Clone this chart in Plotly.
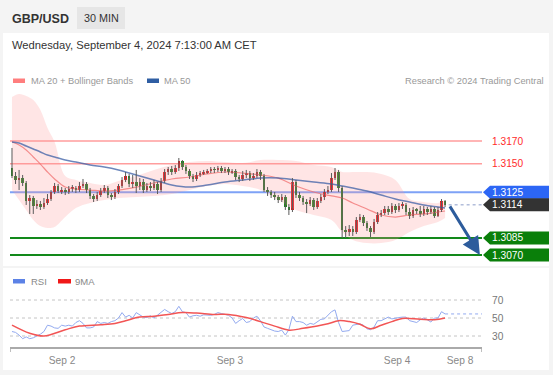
import plotly.graph_objects as go

# ---------------- data ----------------
opens = [1.31463, 1.31393, 1.31358, 1.31375, 1.31332, 1.31174, 1.31200, 1.31130, 1.31147, 1.31121,
         1.31156, 1.31191, 1.31253, 1.31305, 1.31261, 1.31270, 1.31253, 1.31279, 1.31288, 1.31270,
         1.31305, 1.31323, 1.31270, 1.31218, 1.31191, 1.31226, 1.31261, 1.31288, 1.31226, 1.31209,
         1.31253, 1.31305, 1.31358, 1.31393, 1.31323, 1.31340, 1.31305, 1.31340, 1.31270, 1.31305,
         1.31288, 1.31323, 1.31270, 1.31349, 1.31428, 1.31454, 1.31428, 1.31463, 1.31525, 1.31472,
         1.31437, 1.31393, 1.31367, 1.31402, 1.31419, 1.31428, 1.31437, 1.31454, 1.31446, 1.31463,
         1.31437, 1.31454, 1.31428, 1.31437, 1.31384, 1.31367, 1.31402, 1.31419, 1.31375, 1.31393,
         1.31428, 1.31393, 1.31270, 1.31253, 1.31226, 1.31209, 1.31182, 1.31209, 1.31121, 1.31095,
         1.31340, 1.31226, 1.31200, 1.31165, 1.31147, 1.31182, 1.31121, 1.31174, 1.31209, 1.31253,
         1.31270, 1.31375, 1.31428, 1.31288, 1.30919, 1.30902, 1.30928, 1.30902, 1.31007, 1.31033,
         1.30981, 1.30937, 1.30902, 1.30989, 1.31051, 1.31068, 1.31104, 1.31077, 1.31130, 1.31095,
         1.31130, 1.31139, 1.31077, 1.31042, 1.31095, 1.31086, 1.31060, 1.31104, 1.31077, 1.31104,
         1.31042, 1.31095, 1.31174]
highs = [1.31639, 1.31428, 1.31446, 1.31402, 1.31349, 1.31226, 1.31218, 1.31182, 1.31174, 1.31200,
         1.31235, 1.31270, 1.31332, 1.31323, 1.31296, 1.31288, 1.31305, 1.31314, 1.31305, 1.31340,
         1.31367, 1.31340, 1.31288, 1.31235, 1.31253, 1.31288, 1.31314, 1.31305, 1.31244, 1.31279,
         1.31323, 1.31384, 1.31428, 1.31411, 1.31402, 1.31446, 1.31375, 1.31367, 1.31332, 1.31340,
         1.31358, 1.31340, 1.31375, 1.31454, 1.31472, 1.31481, 1.31489, 1.31551, 1.31533, 1.31489,
         1.31454, 1.31411, 1.31428, 1.31437, 1.31446, 1.31454, 1.31472, 1.31472, 1.31481, 1.31481,
         1.31472, 1.31472, 1.31454, 1.31454, 1.31402, 1.31437, 1.31446, 1.31437, 1.31419, 1.31454,
         1.31446, 1.31411, 1.31296, 1.31270, 1.31253, 1.31226, 1.31235, 1.31226, 1.31147, 1.31375,
         1.31358, 1.31253, 1.31218, 1.31191, 1.31209, 1.31200, 1.31200, 1.31235, 1.31279, 1.31305,
         1.31419, 1.31463, 1.31446, 1.31305, 1.30954, 1.30963, 1.30954, 1.31033, 1.31060, 1.31051,
         1.30998, 1.30954, 1.31016, 1.31077, 1.31095, 1.31130, 1.31130, 1.31156, 1.31147, 1.31156,
         1.31165, 1.31156, 1.31112, 1.31121, 1.31112, 1.31130, 1.31130, 1.31121, 1.31130, 1.31121,
         1.31121, 1.31191, 1.31182]
lows = [1.31375, 1.31323, 1.31270, 1.31305, 1.31139, 1.31060, 1.31060, 1.31104, 1.31095, 1.31104,
        1.31139, 1.31174, 1.31235, 1.31244, 1.31235, 1.31226, 1.31235, 1.31253, 1.31244, 1.31253,
        1.31288, 1.31244, 1.31191, 1.31165, 1.31174, 1.31209, 1.31244, 1.31200, 1.31182, 1.31191,
        1.31235, 1.31288, 1.31340, 1.31296, 1.31288, 1.31244, 1.31270, 1.31244, 1.31253, 1.31261,
        1.31270, 1.31235, 1.31253, 1.31332, 1.31402, 1.31402, 1.31411, 1.31437, 1.31446, 1.31411,
        1.31367, 1.31340, 1.31349, 1.31384, 1.31402, 1.31411, 1.31419, 1.31419, 1.31428, 1.31419,
        1.31419, 1.31402, 1.31411, 1.31358, 1.31340, 1.31349, 1.31375, 1.31349, 1.31358, 1.31375,
        1.31358, 1.31253, 1.31218, 1.31200, 1.31182, 1.31156, 1.31165, 1.31095, 1.31051, 1.31077,
        1.31200, 1.31174, 1.31139, 1.31068, 1.31130, 1.31095, 1.31104, 1.31156, 1.31182, 1.31235,
        1.31253, 1.31358, 1.31253, 1.30849, 1.30849, 1.30867, 1.30867, 1.30884, 1.30989, 1.30954,
        1.30911, 1.30858, 1.30884, 1.30972, 1.31033, 1.31051, 1.31051, 1.31060, 1.31068, 1.31077,
        1.31104, 1.31051, 1.31016, 1.31025, 1.31060, 1.31033, 1.31042, 1.31051, 1.31060, 1.31025,
        1.31033, 1.31077, 1.31121]
closes = [1.31393, 1.31358, 1.31375, 1.31332, 1.31174, 1.31200, 1.31130, 1.31147, 1.31121, 1.31156,
          1.31191, 1.31253, 1.31305, 1.31261, 1.31270, 1.31253, 1.31279, 1.31288, 1.31270, 1.31305,
          1.31323, 1.31270, 1.31218, 1.31191, 1.31226, 1.31261, 1.31288, 1.31226, 1.31209, 1.31253,
          1.31305, 1.31358, 1.31393, 1.31323, 1.31340, 1.31305, 1.31340, 1.31270, 1.31305, 1.31288,
          1.31323, 1.31270, 1.31349, 1.31428, 1.31454, 1.31428, 1.31463, 1.31525, 1.31472, 1.31437,
          1.31393, 1.31367, 1.31402, 1.31419, 1.31428, 1.31437, 1.31454, 1.31446, 1.31463, 1.31437,
          1.31454, 1.31428, 1.31437, 1.31384, 1.31367, 1.31402, 1.31419, 1.31375, 1.31393, 1.31428,
          1.31393, 1.31270, 1.31253, 1.31226, 1.31209, 1.31182, 1.31209, 1.31121, 1.31095, 1.31340,
          1.31226, 1.31200, 1.31165, 1.31147, 1.31182, 1.31121, 1.31174, 1.31209, 1.31253, 1.31270,
          1.31375, 1.31428, 1.31288, 1.30919, 1.30902, 1.30928, 1.30902, 1.31007, 1.31033, 1.30981,
          1.30937, 1.30902, 1.30989, 1.31051, 1.31068, 1.31104, 1.31077, 1.31130, 1.31095, 1.31130,
          1.31139, 1.31077, 1.31042, 1.31095, 1.31086, 1.31060, 1.31104, 1.31077, 1.31104, 1.31042,
          1.31095, 1.31174, 1.31140]

# indicator samples (candle index -> value)
ind_idx = [0, 2, 4, 6, 8, 10, 12, 15, 18, 22, 26, 30, 35, 40, 45, 50, 55, 60, 65, 70, 75, 80, 85,
           90, 93, 96, 100, 104, 108, 112, 116, 120, 122]
bb_upper = [1.32086, 1.32112, 1.32095, 1.32060, 1.31972, 1.31814, 1.31691, 1.31393, 1.31358, 1.31332,
            1.31314, 1.31349, 1.31393, 1.31446, 1.31489, 1.31516, 1.31525, 1.31516, 1.31507, 1.31533,
            1.31533, 1.31525, 1.31489, 1.31472, 1.31428, 1.31428, 1.31428, 1.31411, 1.31358, 1.31191,
            1.31165, 1.31156, 1.31182]
bb_lower = [1.31270, 1.31182, 1.31095, 1.31007, 1.30954, 1.30937, 1.30946, 1.31033, 1.31112, 1.31156,
            1.31182, 1.31200, 1.31209, 1.31218, 1.31235, 1.31270, 1.31305, 1.31323, 1.31305, 1.31270,
            1.31182, 1.31095, 1.31051, 1.31007, 1.30902, 1.30832, 1.30805, 1.30805, 1.30832, 1.30902,
            1.30954, 1.30989, 1.31025]
ma20 = [1.31691, 1.31665, 1.31621, 1.31560, 1.31498, 1.31428, 1.31367, 1.31296, 1.31279, 1.31270,
        1.31261, 1.31270, 1.31296, 1.31332, 1.31367, 1.31384, 1.31411, 1.31428, 1.31419, 1.31402,
        1.31375, 1.31305, 1.31253, 1.31218, 1.31200, 1.31156, 1.31104, 1.31051, 1.31033, 1.31051,
        1.31060, 1.31077, 1.31086]
ma50 = [1.31691, 1.31682, 1.31656, 1.31630, 1.31604, 1.31577, 1.31560, 1.31533, 1.31516, 1.31489,
        1.31472, 1.31446, 1.31402, 1.31358, 1.31314, 1.31296, 1.31314, 1.31340, 1.31358, 1.31375,
        1.31375, 1.31358, 1.31340, 1.31323, 1.31305, 1.31288, 1.31261, 1.31226, 1.31191, 1.31165,
        1.31139, 1.31121, 1.31112]

rsi = [35, 34, 31, 27, 29, 27, 28, 30, 32, 35,
       42, 41, 39, 38.5, 42, 41, 42, 41, 45, 47,
       44, 39, 39, 40, 46, 44, 45, 44, 46, 47,
       50, 56, 51, 53, 50, 56, 53, 51, 50.5, 52.5,
       50, 53, 56, 59.5, 57, 55, 57, 63, 57, 56,
       51, 52.5, 53, 52, 53.5, 53, 53, 54, 56, 55,
       54, 53, 50, 44, 47, 49.5, 45, 46, 50, 52,
       47, 40, 38.5, 37, 35.5, 35, 36.5, 31, 37, 52,
       46, 46, 45, 42, 44, 43, 46, 48.5, 49, 53,
       57, 59, 45, 35, 35.5, 36, 42, 43, 43.5, 42,
       38, 37, 40, 47, 47, 49, 51, 49, 50, 50.5,
       51, 51, 47, 46, 45, 48, 50, 48, 45.5, 50,
       50, 57, 54.5]
rsi_ma_idx = [0, 5, 9, 15, 19, 25, 29, 32, 36, 40, 44, 48, 52, 57, 61, 66, 70, 74, 78, 82,
              86, 89, 92, 95, 98, 101, 104, 107, 110, 115, 119, 122]
rsi_ma = [42, 33, 30, 37, 41, 42.5, 44, 47, 51, 52, 54, 56, 55.5, 54, 54, 50.5, 46, 41, 36.5, 38.5,
          41, 43.5, 47, 46, 43, 38, 42, 46, 49.5, 48.5, 48, 50]

resistances = [1.3170, 1.3150]
pivot = 1.3125
last_price = 1.3114
supports = [1.3085, 1.3070]
rsi_levels = [70, 50, 30]

tick_pos = [14.1, 61.4, 108.5, 126.2]
tick_labels = ["Sep 2", "Sep 3", "Sep 4", "Sep 8"]

# ---------------- figure ----------------
W, H = 553, 375
def px(x):
    return x / W
def py(y):
    return 1 - y / H

FONT = "Liberation Sans, Arial, sans-serif"
N = len(closes)
idx = list(range(N))
XR = [-0.56, 132.4]
UP, DOWN = "#e3161b", "#178a17"

fig = go.Figure()

# Bollinger band
fig.add_trace(go.Scatter(x=ind_idx, y=bb_upper, mode="lines", line=dict(width=0, shape="spline", smoothing=1.0),
                         hoverinfo="skip"))
fig.add_trace(go.Scatter(x=ind_idx, y=bb_lower, mode="lines", line=dict(width=0, shape="spline", smoothing=1.0),
                         fill="tonexty", fillcolor="rgba(255,150,150,0.25)", hoverinfo="skip"))
# moving averages
fig.add_trace(go.Scatter(x=ind_idx, y=ma20, mode="lines",
                         line=dict(color="rgba(240,110,110,0.75)", width=1.2, shape="spline")))
fig.add_trace(go.Scatter(x=ind_idx, y=ma50, mode="lines",
                         line=dict(color="rgba(60,95,165,0.75)", width=1.5, shape="spline")))

# wicks
wx, wy = [], []
for i in idx:
    wx += [i, i, None]
    wy += [lows[i], highs[i], None]
fig.add_trace(go.Scatter(x=wx, y=wy, mode="lines", line=dict(color="#5a5a5a", width=1), hoverinfo="skip"))
# bodies
fig.add_trace(go.Bar(x=idx, y=[abs(c - o) for o, c in zip(opens, closes)],
                     base=[min(o, c) for o, c in zip(opens, closes)],
                     marker=dict(color=[UP if c > o else DOWN for o, c in zip(opens, closes)],
                                 line=dict(width=0)),
                     width=0.72))

# RSI panel
fig.add_trace(go.Scatter(x=idx, y=rsi, mode="lines", line=dict(color="#93aaf0", width=1),
                         xaxis="x2", yaxis="y2"))
fig.add_trace(go.Scatter(x=rsi_ma_idx, y=rsi_ma, mode="lines", line=dict(color="#f25555", width=1.5, shape="spline"),
                         xaxis="x2", yaxis="y2"))

shapes = []
# cards
shapes.append(dict(type="rect", xref="paper", yref="paper", x0=px(3), x1=px(549), y0=py(266), y1=py(33),
                   fillcolor="white", line=dict(width=0), layer="below"))
shapes.append(dict(type="rect", xref="paper", yref="paper", x0=px(3), x1=px(549), y0=py(370), y1=py(268),
                   fillcolor="white", line=dict(width=0), layer="below"))
shapes.append(dict(type="rect", xref="paper", yref="paper", x0=px(77), x1=px(125), y0=py(29), y1=py(7),
                   fillcolor="#e6e6e6", line=dict(width=0), layer="below"))

# level lines
for lv in resistances:
    shapes.append(dict(type="line", xref="x", yref="y", x0=XR[0], x1=XR[1], y0=lv, y1=lv,
                       line=dict(color="#ff9d9d", width=1.5), layer="below"))
shapes.append(dict(type="line", xref="x", yref="y", x0=XR[0], x1=XR[1], y0=pivot, y1=pivot,
                   line=dict(color="#7ea2f6", width=2), layer="below"))
for lv in supports:
    shapes.append(dict(type="line", xref="x", yref="y", x0=XR[0], x1=XR[1], y0=lv, y1=lv,
                       line=dict(color="#12891a", width=2), layer="below"))
shapes.append(dict(type="line", xref="x", yref="y", x0=N, x1=XR[1], y0=last_price, y1=last_price,
                   line=dict(color="#8c9cc8", width=1, dash="dot")))

# label boxes
HH = 0.00057
def box(level, color):
    xt, xl, xr = px(483), px(490), px(549)
    path = (f"M {xt},{level} L {xl},{level + HH} L {xr},{level + HH} "
            f"L {xr},{level - HH} L {xl},{level - HH} Z")
    return dict(type="path", xref="paper", yref="y", path=path, fillcolor=color, line=dict(width=0))
shapes.append(box(pivot, "#2c66f5"))
shapes.append(box(last_price, "#333333"))
for lv in supports:
    shapes.append(box(lv, "#0a7f0a"))

# RSI levels
for lv in rsi_levels:
    shapes.append(dict(type="line", xref="x2", yref="y2", x0=XR[0], x1=XR[1], y0=lv, y1=lv,
                       line=dict(color="#c4c4c4", width=1, dash="dot"), layer="below"))
shapes.append(dict(type="line", xref="x2", yref="y2", x0=N - 1, x1=XR[1], y0=rsi[-1], y1=rsi[-1],
                   line=dict(color="#93aaf0", width=1, dash="dot")))
# axis end brackets
for xe in XR:
    shapes.append(dict(type="line", xref="x2", yref="paper", x0=xe, x1=xe, y0=py(347), y1=py(352),
                       line=dict(color="#aaaaaa", width=1.5)))

# legend swatches
shapes.append(dict(type="rect", xref="paper", yref="paper", x0=px(13), x1=px(25), y0=py(83), y1=py(78.5),
                   fillcolor="#ff7e7e", line=dict(width=0)))
shapes.append(dict(type="rect", xref="paper", yref="paper", x0=px(147), x1=px(159), y0=py(83), y1=py(78.5),
                   fillcolor="#2f5ea3", line=dict(width=0)))
shapes.append(dict(type="rect", xref="paper", yref="paper", x0=px(13), x1=px(25), y0=py(283.5), y1=py(279),
                   fillcolor="#5c82e6", line=dict(width=0)))
shapes.append(dict(type="rect", xref="paper", yref="paper", x0=px(58), x1=px(71), y0=py(283.5), y1=py(279),
                   fillcolor="#f01818", line=dict(width=0)))

ann = []
def text(x, y, s, size, color, anchor="left", bold=False, yref="paper"):
    ann.append(dict(x=px(x), y=py(y) if yref == "paper" else y, xref="paper", yref=yref, text=f"<b>{s}</b>" if bold else s,
                    showarrow=False, xanchor=anchor, yanchor="middle",
                    font=dict(size=size, color=color, family=FONT)))

text(10, 18.5, "GBP/USD", 12.5, "#333333", bold=True)
text(101, 18, "30 MIN", 10.8, "#333333", anchor="center")
text(10, 45, "Wednesday, September 4, 2024 7:13:00 AM CET", 11.2, "#333333")
text(29, 81, "MA 20 + Bollinger Bands", 9.3, "#999999")
text(162, 81, "MA 50", 9.3, "#999999")
text(546, 81, "Research © 2024 Trading Central", 9.3, "#999999", anchor="right")
text(29, 281, "RSI", 9.5, "#888888")
text(73, 281, "9MA", 9.5, "#888888")

for lv in resistances:
    text(490, lv, f"{lv:.4f}", 10.2, "#ff2b2b", yref="y")
for lv in [pivot, last_price] + supports:
    text(490, lv, f"{lv:.4f}", 10.2, "white", yref="y")
for lv in rsi_levels:
    text(490, lv, str(lv), 10.2, "#777777", yref="y2")

# forecast arrow
ann.append(dict(x=131.8, y=supports[1], xref="x", yref="y", ax=N + 0.1, ay=last_price, axref="x", ayref="y",
                showarrow=True, arrowhead=2, arrowsize=1.2, arrowwidth=3, arrowcolor="#2d5c9c", text=""))

fig.update_layout(
    width=W, height=H, margin=dict(l=0, r=0, t=0, b=0),
    paper_bgcolor="#f4f4f4", plot_bgcolor="rgba(0,0,0,0)",
    showlegend=False, barmode="overlay", bargap=0,
    font=dict(family=FONT),
    xaxis=dict(domain=[px(10), px(482)], range=XR, visible=False, fixedrange=True),
    yaxis=dict(domain=[py(268), py(88)], range=[1.30586, 1.32165], visible=False),
    xaxis2=dict(domain=[px(10), px(482)], range=XR, anchor="y2", showline=True, linecolor="#aaaaaa",
                linewidth=1.5, showgrid=False, zeroline=False, tickvals=tick_pos, ticktext=tick_labels,
                ticks="outside", ticklen=3, tickcolor="rgba(0,0,0,0)",
                tickfont=dict(size=10.2, color="#888888", family=FONT)),
    yaxis2=dict(domain=[py(347), py(288)], range=[17.78, 83.33], visible=False),
    shapes=shapes, annotations=ann,
)

fig.write_html("out.html")
